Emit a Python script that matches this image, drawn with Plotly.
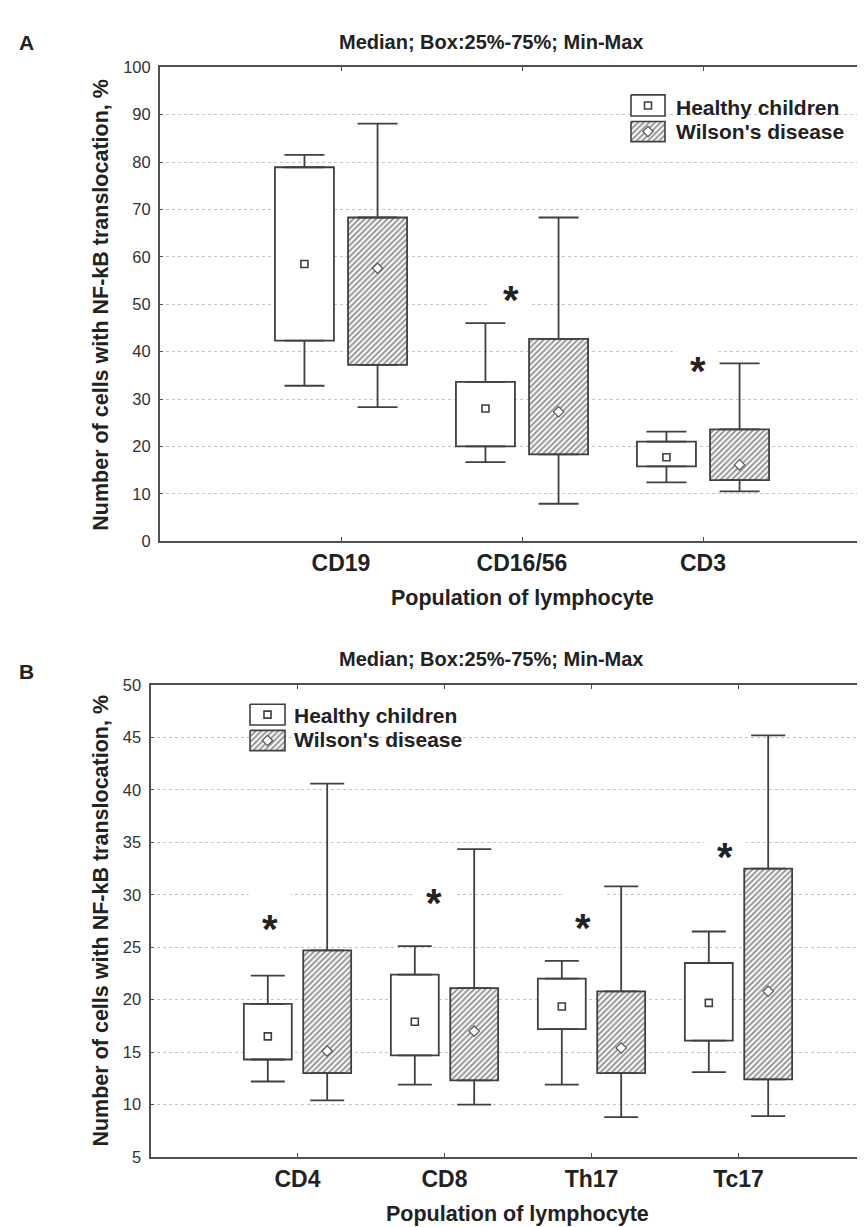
import plotly.graph_objects as go

W, H = 865, 1227
FONT = "Liberation Sans, Arial, sans-serif"
LINE = "#404040"
AX = "#505050"
TXT = "#222222"

# ---------------- Panel A data ----------------
cats_a = ["CD19", "CD16/56", "CD3"]
healthy_a_min = [32.8, 16.7, 12.4]
healthy_a_q1 = [42.3, 20.0, 15.8]
healthy_a_med = [58.5, 28.0, 17.7]
healthy_a_q3 = [78.9, 33.6, 21.0]
healthy_a_max = [81.5, 46.0, 23.1]
wilson_a_min = [28.3, 7.9, 10.5]
wilson_a_q1 = [37.2, 18.3, 12.9]
wilson_a_med = [57.6, 27.3, 16.1]
wilson_a_q3 = [68.3, 42.7, 23.6]
wilson_a_max = [88.1, 68.3, 37.5]
star_a_cats = ["CD16/56", "CD3"]
star_a_y = [52.8, 37.8]
yticks_a = list(range(0, 101, 10))

# ---------------- Panel B data ----------------
cats_b = ["CD4", "CD8", "Th17", "Tc17"]
healthy_b_min = [12.2, 11.9, 11.9, 13.1]
healthy_b_q1 = [14.3, 14.7, 17.2, 16.1]
healthy_b_med = [16.5, 17.9, 19.35, 19.7]
healthy_b_q3 = [19.6, 22.4, 22.0, 23.5]
healthy_b_max = [22.3, 25.1, 23.7, 26.5]
wilson_b_min = [10.4, 10.0, 8.8, 8.9]
wilson_b_q1 = [13.0, 12.3, 13.0, 12.4]
wilson_b_med = [15.1, 17.0, 15.4, 20.8]
wilson_b_q3 = [24.7, 21.1, 20.8, 32.5]
wilson_b_max = [40.6, 34.35, 30.8, 45.2]
star_b_cats = ["CD4", "CD8", "Th17", "Tc17"]
star_b_y = [27.6, 30.1, 27.7, 34.5]
yticks_b = list(range(5, 51, 5))

series_names = ["Healthy children", "Wilson's disease"]
title_text = "Median; Box:25%-75%; Min-Max"
ytitle_text = "Number of cells with NF-kB translocation, %"
xtitle_text = "Population of lymphocyte"

# layout helpers (pixel geometry)
def px_x(p):
    return p / W

def px_y(p):
    return 1 - p / H

BOX_W = 0.326
OFF = 0.202
HATCH = dict(shape="/", fgcolor="#2c2c2c", bgcolor="white", size=4, solidity=0.5)
MED_H = dict(symbol="square", size=7, color="white", line=dict(color=LINE, width=1.6))
MED_W = dict(symbol="diamond", size=8, color="white", line=dict(color="#555", width=1.2))

fig = go.Figure()


def add_panel(cats, stats_h, stats_w, xa, ya, capw, star_cats, star_y, star_off):
    pos = {c: i + 1 for i, c in enumerate(cats)}
    xs = [pos[c] for c in cats]
    for k, (stats, sign) in enumerate([(stats_h, -1), (stats_w, 1)]):
        mn, q1, md, q3, mx = stats
        xx = [p + sign * OFF for p in xs]
        marker = dict(color="white", line=dict(color=LINE, width=1.8))
        if k == 1:
            marker["pattern"] = HATCH
        fig.add_trace(go.Bar(
            x=xx, y=[b - a for a, b in zip(q1, q3)], base=q1, width=BOX_W,
            marker=marker, name=series_names[k], showlegend=False,
            xaxis=xa, yaxis=ya, hoverinfo="skip"))
        # upper whisker
        fig.add_trace(go.Scatter(
            x=xx, y=q3, mode="markers", marker=dict(size=1, color="rgba(0,0,0,0)"),
            error_y=dict(type="data", symmetric=False,
                         array=[b - a for a, b in zip(q3, mx)],
                         arrayminus=[0] * len(q3), color=LINE, thickness=1.8, width=capw),
            showlegend=False, xaxis=xa, yaxis=ya, hoverinfo="skip"))
        # lower whisker
        fig.add_trace(go.Scatter(
            x=xx, y=q1, mode="markers", marker=dict(size=1, color="rgba(0,0,0,0)"),
            error_y=dict(type="data", symmetric=False,
                         array=[0] * len(q1),
                         arrayminus=[a - b for a, b in zip(q1, mn)], color=LINE,
                         thickness=1.8, width=capw),
            showlegend=False, xaxis=xa, yaxis=ya, hoverinfo="skip"))
        # median
        fig.add_trace(go.Scatter(x=xx, y=md, mode="markers", marker=MED_H if k == 0 else MED_W,
                                 showlegend=False, xaxis=xa, yaxis=ya, hoverinfo="skip"))
    # significance asterisks (white patch interrupts the grid, glyph on top)
    for c, yv, o in zip(star_cats, star_y, star_off):
        fig.add_shape(type="rect", xref=xa, yref=ya, xsizemode="pixel", ysizemode="pixel",
                      xanchor=pos[c] + o, yanchor=yv, x0=-21, x1=21, y0=-16, y1=30,
                      fillcolor="white", line=dict(width=0), layer="between")
        fig.add_annotation(x=pos[c] + o, y=yv, xref=xa, yref=ya, text="*", showarrow=False,
                           font=dict(family=FONT, size=40, color=TXT, weight="bold"),
                           yshift=-9)


add_panel(cats_a,
          (healthy_a_min, healthy_a_q1, healthy_a_med, healthy_a_q3, healthy_a_max),
          (wilson_a_min, wilson_a_q1, wilson_a_med, wilson_a_q3, wilson_a_max),
          "x", "y", 20, star_a_cats, star_a_y, [-0.06, -0.03])
add_panel(cats_b,
          (healthy_b_min, healthy_b_q1, healthy_b_med, healthy_b_q3, healthy_b_max),
          (wilson_b_min, wilson_b_q1, wilson_b_med, wilson_b_q3, wilson_b_max),
          "x2", "y2", 17, star_b_cats, star_b_y, [-0.19, -0.07, -0.06, -0.09])

# ---------------- manual legends on a pixel overlay axis ----------------
def legend(x0, x1, boxes, text_x, text_y):
    for k, (ya, yb) in enumerate(boxes):
        kw = dict(fill="toself", fillcolor="white", line=dict(color=LINE, width=1.6))
        if k == 1:
            kw["fillpattern"] = HATCH
        fig.add_trace(go.Scatter(x=[x0, x1, x1, x0, x0], y=[ya, ya, yb, yb, ya], mode="lines",
                                 showlegend=False, xaxis="x3", yaxis="y3", hoverinfo="skip", **kw))
        fig.add_trace(go.Scatter(x=[(x0 + x1) / 2], y=[(ya + yb) / 2], mode="markers",
                                 marker=MED_H if k == 0 else MED_W,
                                 showlegend=False, xaxis="x3", yaxis="y3", hoverinfo="skip"))
        fig.add_annotation(x=px_x(text_x), y=px_y(text_y[k]), xref="paper", yref="paper",
                           text=series_names[k], showarrow=False, xanchor="left",
                           yanchor="middle",
                           font=dict(family=FONT, size=21, color=TXT, weight="bold"))


legend(623, 657, [(79, 100.5), (106, 126.5)], 666, [91.5, 116])
legend(242, 277, [(697.5, 718.5), (724, 744.5)], 284, [708.5, 733.5])

# ---------------- texts ----------------
def txt(x, y, s, size, bold=True, angle=0):
    fig.add_annotation(x=px_x(x), y=px_y(y), xref="paper", yref="paper", text=s,
                       showarrow=False, textangle=angle, xanchor="center", yanchor="middle",
                       font=dict(family=FONT, size=size, color=TXT,
                                 weight="bold" if bold else "normal"))

txt(18, 26, "A", 21)
txt(18, 664, "B", 21)
txt(483, 25, title_text, 20)
txt(483, 652, title_text, 20)
txt(93, 292, ytitle_text, 21.5, angle=-90)
txt(93, 917, ytitle_text, 21.5, angle=-90)
txt(514, 590, xtitle_text, 21.5)
txt(509, 1215, xtitle_text, 21.5)

xcommon = dict(showline=True, linecolor=AX, linewidth=2, mirror="ticks", ticks="inside",
               ticklen=4, tickcolor=AX, showgrid=False, zeroline=False,
               tickfont=dict(family=FONT, size=23, color=TXT, weight="bold"))
ycommon = dict(showline=True, linecolor=AX, linewidth=2, ticks="inside", ticklen=3,
               tickcolor=AX, showgrid=True, gridcolor="#c4c4c4", griddash="dot", gridwidth=1,
               zeroline=False, tickfont=dict(family=FONT, size=16.5, color="#333333"),
               ticklabelstandoff=4)

fig.update_layout(
    width=W, height=H, margin=dict(l=0, r=0, t=0, b=0),
    paper_bgcolor="white", plot_bgcolor="rgba(0,0,0,0)", barmode="overlay",
    showlegend=False,
    xaxis=dict(domain=[px_x(152), 1], range=[0, (W - 152) / 181.0], anchor="y",
               tickvals=list(range(1, len(cats_a) + 1)), ticktext=cats_a, **xcommon),
    yaxis=dict(domain=[px_y(532), px_y(51)], range=[0, 100], tickvals=yticks_a, anchor="x",
               **ycommon),
    xaxis2=dict(domain=[px_x(142.5), 1], range=[0, (W - 142.5) / 147.0], anchor="y2",
                tickvals=list(range(1, len(cats_b) + 1)), ticktext=cats_b, **xcommon),
    yaxis2=dict(domain=[px_y(1157), px_y(678)], range=[5, 50], tickvals=yticks_b, anchor="x2",
                **ycommon),
    xaxis3=dict(domain=[0, 1], range=[0, W], visible=False, anchor="y3", fixedrange=True),
    yaxis3=dict(domain=[0, 1], range=[H, 0], visible=False, anchor="x3", fixedrange=True),
)

fig.write_html("out.html")
